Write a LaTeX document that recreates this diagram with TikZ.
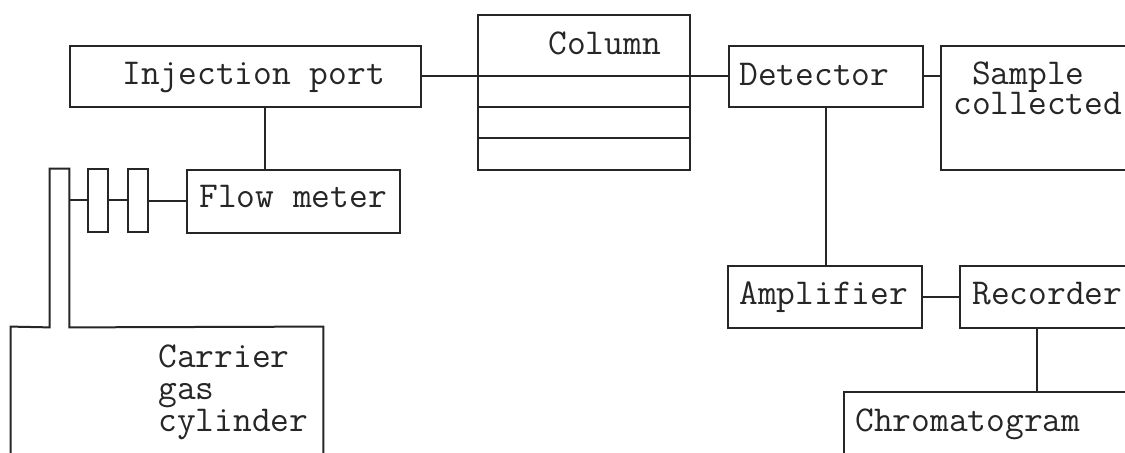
\documentclass[tikz,border=0pt]{standalone}
\usepackage{fontspec}
\usetikzlibrary{fit}
\tikzset{
  ink/.style={line width=1pt, draw=black!85},
  box/.style={ink, rectangle, inner sep=0pt},
  lbl/.style={anchor=base west, inner sep=0pt, text=black!85,
              font=\ttfamily\fontsize{18.2}{22}\selectfont},
}
\begin{document}
\begin{tikzpicture}[x=0.5pt, y=-0.5pt]
\clip (0,0) rectangle (1125,453);
\fill[white] (0,0) rectangle (1125,453);

% boxes
\node[box, fit={(70,46)(421,107)}]   (inj)   {};
\node[box, fit={(478,15)(690,170)}]  (col)   {};
\node[box, fit={(729,46)(923,107)}]  (det)   {};
\node[box, fit={(941,46)(1150,170)}] (samp)  {};
\node[box, fit={(187,170)(400,233)}] (flow)  {};
\node[box, fit={(88,169)(108,232)}]  (r2)    {};
\node[box, fit={(128,169)(148,232)}] (r3)    {};
\node[box, fit={(728,266)(922,328)}] (amp)   {};
\node[box, fit={(960,266)(1150,328)}] (rec)  {};
\node[box, fit={(844,392)(1150,480)}] (chrom) {};

% gas cylinder with its outlet tube
\node[inner sep=0pt, fit={(50,169)(69,327)}] (tube) {};
\node[inner sep=0pt, fit={(11,327)(323,480)}] (cyl) {};
\draw[ink] (cyl.south west) -- (cyl.north west) -- (tube.south west)
  -- (tube.north west) -- (tube.north east) -- (tube.south east)
  -- (cyl.north east) -- (cyl.south east);

% column packing lines
\draw[ink] (col.west |- 0,107) -- (col.east |- 0,107);
\draw[ink] (col.west |- 0,138) -- (col.east |- 0,138);

% connectors
\coordinate (jx) at (265,0);
\coordinate (cx) at (1037,0);
\draw[ink] (inj.east) -- (det.west);
\draw[ink] (det.east) -- (det.east -| samp.west);
\draw[ink] (inj.south -| jx) -- (flow.north -| jx);
\draw[ink] (flow.west) -- (flow.west -| r3.east);
\draw[ink] (r3.west) -- (r3.west -| r2.east);
\draw[ink] (r2.west) -- (r2.west -| tube.east);
\draw[ink] (det.south) -- (det.south |- amp.north);
\draw[ink] (amp.east) -- (rec.west);
\draw[ink] (rec.south -| cx) -- (chrom.north -| cx);

% labels
\node[lbl] (tinj)  at (122,85)  {Injection port};
\node[lbl] (tcol)  at (548,55)  {Column};
\node[lbl] (tdet)  at (739,86)  {Detector};
\node[lbl] (tsa)   at (953,85)  {\ Sample};
\node[lbl] (tsb)   at (953,115) {collected};
\node[lbl] (tflow) at (199,208) {Flow meter};
\node[lbl] (tamp)  at (739,305) {Amplifier};
\node[lbl] (trec)  at (972,305) {Recorder};
\node[lbl] (tchr)  at (855,432) {Chromatogram};
\node[lbl] (tca)   at (158,368) {Carrier};
\node[lbl] (tcb)   at (158,400) {gas};
\node[lbl] (tcc)   at (158,432) {cylinder};
\end{tikzpicture}
\end{document}
